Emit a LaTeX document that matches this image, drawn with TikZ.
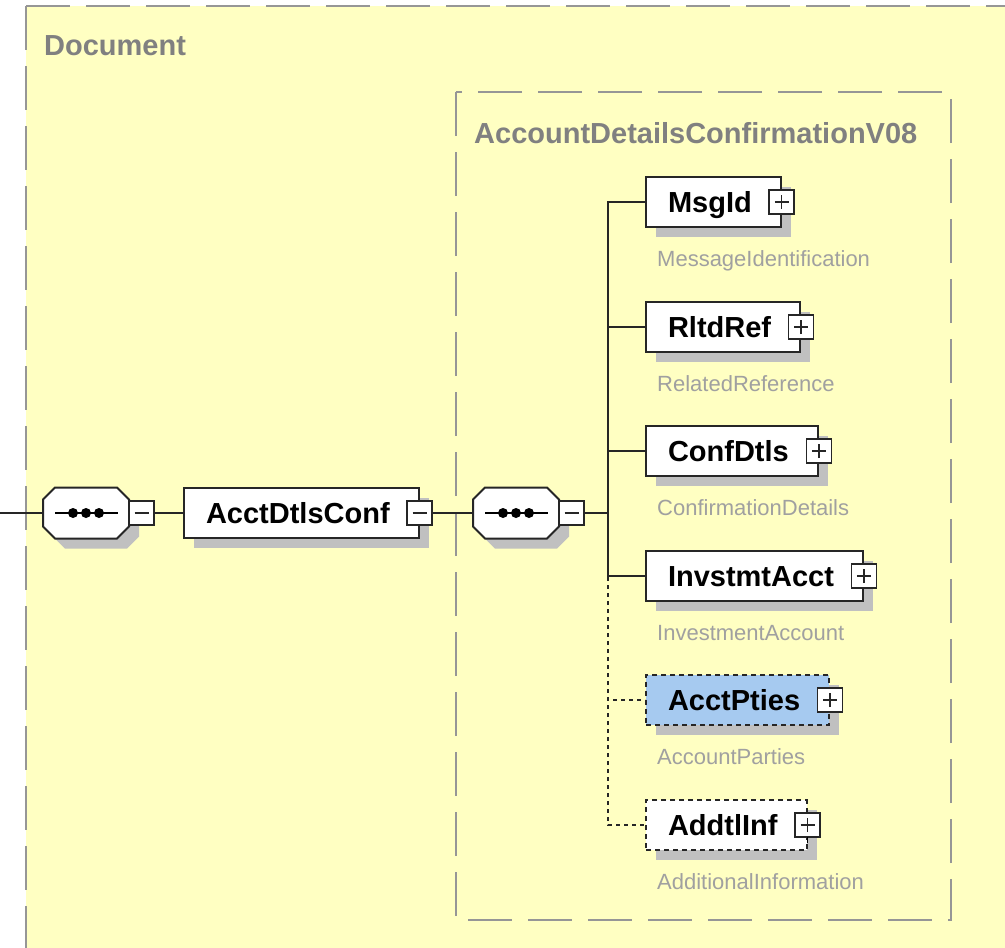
\documentclass[tikz,border=0pt]{standalone}
\usepackage{fontspec}
\setmainfont{Liberation Sans}
\usetikzlibrary{shadows}
\definecolor{docyellow}{RGB}{255,255,194}
\definecolor{framegray}{RGB}{150,150,150}
\definecolor{labelgray}{RGB}{160,160,160}
\definecolor{titlegray}{RGB}{128,128,128}
\definecolor{shadowgray}{RGB}{192,192,192}
\definecolor{optblue}{RGB}{166,202,240}
\newcommand\elemfont{\fontsize{29}{34}\selectfont\bfseries}
\newcommand\descfont{\fontsize{22}{26}\selectfont}
\tikzset{
  dashframe/.style={draw=framegray, line width=2.2pt, dash pattern=on 44pt off 16pt},
  wire/.style={draw=black!85, line width=2pt},
  optwire/.style={wire, dash pattern=on 4pt off 4pt},
  boxshadow/.style={drop shadow={shadow xshift=10pt, shadow yshift=-10pt, opacity=1, fill=shadowgray}},
  elembox/.style={draw=black!85, line width=2pt, fill=white, boxshadow,
    minimum height=50pt, inner sep=0pt, text height=21pt, text depth=0pt,
    font=\elemfont, anchor=west,
    execute at begin node=\hspace{22pt}, execute at end node=\hspace{29pt}},
  optbox/.style={elembox, dash pattern=on 5pt off 4pt},
  octline/.style={draw=black!85, line width=2pt, fill=white, boxshadow},
  seqbox/.style={minimum width=86pt, minimum height=51pt, inner sep=0pt, outer sep=0pt,
    append after command={\pgfextra{
      \draw[octline] ([xshift=12pt]\tikzlastnode.north west) -- ([xshift=-12pt]\tikzlastnode.north east)
        -- ([yshift=-12pt]\tikzlastnode.north east) -- ([yshift=12pt]\tikzlastnode.south east)
        -- ([xshift=-12pt]\tikzlastnode.south east) -- ([xshift=12pt]\tikzlastnode.south west)
        -- ([yshift=12pt]\tikzlastnode.south west) -- ([yshift=-12pt]\tikzlastnode.north west) -- cycle;}}},
  togglebox/.style={draw=black!85, line width=1.6pt, fill=white, minimum width=25pt,
    minimum height=24pt, inner sep=0pt, outer sep=0pt},
  minusbox/.style={togglebox, path picture={
    \draw[line width=1.4pt] ([xshift=-7pt]path picture bounding box.center) -- ([xshift=7pt]path picture bounding box.center);}},
  plusbox/.style={togglebox, path picture={
    \draw[line width=1.4pt] ([xshift=-7pt]path picture bounding box.center) -- ([xshift=7pt]path picture bounding box.center);
    \draw[line width=1.4pt] ([yshift=-7pt]path picture bounding box.center) -- ([yshift=7pt]path picture bounding box.center);}},
  desc/.style={text=labelgray, font=\descfont, anchor=base west, inner sep=0pt},
  heading/.style={text=titlegray, font=\elemfont, anchor=base west, inner sep=0pt}
}
\begin{document}
\begin{tikzpicture}[x=1pt, y=-1pt]
  \useasboundingbox (0,0) rectangle (1005,948);
  \fill[docyellow] (26,6) rectangle (1005,948);
  \draw[dashframe] (26,6) -- (1012,6);
  \draw[dashframe] (26,6) -- (26,956);
  \draw[dashframe] (456,92) rectangle (951,920);
  \node[heading] (doc) at (44,55) {Document};
  \node[heading] (seqtitle) at (474,143) {AccountDetailsConfirmationV08};

  % root and sequences
  \coordinate (inlet) at (0,513);
  \node[seqbox] (seqA) at (86,513) {};
  \node[minusbox, anchor=west] (seqAm) at (seqA.east) {};
  \node[elembox] (root) at (183,513) {AcctDtlsConf};
  \node[minusbox] (rootm) at (root.east) {};
  \node[seqbox] (seqB) at (516,513) {};
  \node[minusbox, anchor=west] (seqBm) at (seqB.east) {};
  \coordinate (bus) at (608,513);
  \draw[line width=2pt] ([xshift=-31pt]seqA.center) -- ([xshift=32pt]seqA.center);
  \fill ([xshift=-13pt]seqA.center) circle (5pt) (seqA.center) circle (5pt) ([xshift=13pt]seqA.center) circle (5pt);
  \draw[line width=2pt] ([xshift=-31pt]seqB.center) -- ([xshift=32pt]seqB.center);
  \fill ([xshift=-13pt]seqB.center) circle (5pt) (seqB.center) circle (5pt) ([xshift=13pt]seqB.center) circle (5pt);

  % children
  \node[elembox] (msgid) at (645,202) {MsgId};
  \node[plusbox] (msgidp) at (msgid.east) {};
  \node[desc] (msgidd) at (657,266) {MessageIdentification};
  \node[elembox] (rltdref) at (645,327) {RltdRef};
  \node[plusbox] (rltdrefp) at (rltdref.east) {};
  \node[desc] (rltdrefd) at (657,391) {RelatedReference};
  \node[elembox] (confdtls) at (645,451) {ConfDtls};
  \node[plusbox] (confdtlsp) at (confdtls.east) {};
  \node[desc] (confdtlsd) at (657,515) {ConfirmationDetails};
  \node[elembox] (invstmt) at (645,576) {InvstmtAcct};
  \node[plusbox] (invstmtp) at (invstmt.east) {};
  \node[desc] (invstmtd) at (657,640) {InvestmentAccount};
  \node[optbox, fill=optblue] (acctpties) at (645,700) {AcctPties};
  \node[plusbox] (acctptiesp) at (acctpties.east) {};
  \node[desc] (acctptiesd) at (657,764) {AccountParties};
  \node[optbox] (addtlinf) at (645,825) {AddtlInf};
  \node[plusbox] (addtlinfp) at (addtlinf.east) {};
  \node[desc] (addtlinfd) at (657,889) {AdditionalInformation};
  \draw[line width=1.4pt] (addtlinfp.south) -- ++(0,6);

  % connectors
  \draw[wire] (inlet) -- (seqA);
  \draw[wire] (seqAm) -- (root);
  \draw[wire] (rootm) -- (seqB);
  \draw[wire] (seqBm) -- (bus);
  \draw[optwire] (bus) |- (addtlinf);
  \draw[optwire] (bus) |- (acctpties);
  \draw[wire] (bus) |- (msgid);
  \draw[wire] (bus) |- (rltdref);
  \draw[wire] (bus) |- (confdtls);
  \draw[wire] (bus) |- (invstmt);
\end{tikzpicture}
\end{document}
